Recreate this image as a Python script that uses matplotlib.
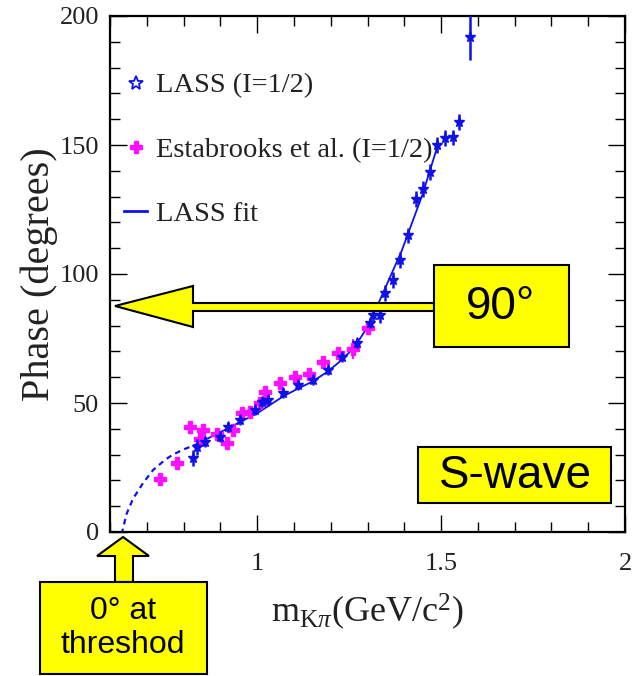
import matplotlib
matplotlib.use('Agg')
import matplotlib.pyplot as plt
from matplotlib.lines import Line2D
from matplotlib.patches import Polygon, Rectangle
from matplotlib.ticker import MultipleLocator, FuncFormatter

plt.rcParams['font.family'] = ['Liberation Serif', 'DejaVu Serif']
plt.rcParams['mathtext.fontset'] = 'custom'
plt.rcParams['mathtext.rm'] = 'Liberation Serif'
plt.rcParams['mathtext.it'] = 'Liberation Serif:italic'

# LASS I=1/2 S-wave phase
lass_m = [0.826, 0.836, 0.858, 0.899, 0.921, 0.953, 0.994, 1.013, 1.029, 1.07,
          1.111, 1.152, 1.192, 1.23, 1.271, 1.307, 1.315, 1.334, 1.347, 1.369,
          1.388, 1.41, 1.432, 1.45, 1.47, 1.489, 1.51, 1.532, 1.548, 1.578]
lass_phase = [28.7, 33, 35, 37, 40.7, 43.4, 47.3, 50.4, 51, 53.9,
              57, 58.9, 62.8, 67.8, 73.3, 81, 84, 84, 92.6, 97.7,
              105.4, 115, 129, 133, 139.5, 150, 152.7, 153, 159, 192]
lass_err = [3, 3, 2, 2, 2, 2, 2, 2, 2, 2,
            2, 2, 2, 2, 2, 2, 3, 3, 3, 3,
            3, 3, 3, 3, 3, 3, 3, 3, 3, 9]

# Estabrooks et al. I=1/2
estab_m = [0.736, 0.782, 0.817, 0.845, 0.853, 0.89, 0.918, 0.934, 0.959, 0.98,
           1.007, 1.021, 1.062, 1.103, 1.141, 1.179, 1.22, 1.26, 1.30]
estab_phase = [20.5, 26.7, 40.7, 36, 39.5, 38, 34.5, 39.5, 46, 46.5,
               50, 54.3, 57.8, 60, 61.2, 66, 69.4, 70.9, 79]
estab_err = [2, 2, 2, 2, 2, 2, 2, 2, 2, 2,
             2, 2, 2, 2, 2, 2, 2, 4, 2]

# LASS fit: extrapolation below data (dashed) and fit region (solid)
dash_m = [0.6, 0.633, 0.645, 0.663, 0.69, 0.717, 0.75, 0.771, 0.80, 0.83]
dash_phase = [0, 0, 7, 13, 19, 24, 28, 30, 32, 33.7]
fit_m = [0.83, 0.9, 1.0, 1.07, 1.11, 1.15, 1.19, 1.22, 1.25, 1.28, 1.30,
         1.334, 1.393, 1.45, 1.489]
fit_phase = [33.7, 38.7, 46, 52.5, 55.5, 58.3, 62, 65.5, 69.5, 75, 79.5,
             90, 109, 131, 149]

W, H = 632, 676
fig = plt.figure(figsize=(W / 100, H / 100), dpi=100)
ax = fig.add_axes([110 / W, 1 - 532 / H, 515 / W, 516 / H])

blue = '#1010e8'
mag = '#ff10ff'

ax.plot(dash_m, dash_phase, color=blue, lw=1.6, ls=(0, (2.5, 2)), zorder=2)
ax.plot(fit_m, fit_phase, color=blue, lw=1.3, zorder=2)
ax.errorbar(estab_m, estab_phase, yerr=estab_err, fmt='P', color=mag, ms=9,
            elinewidth=1.5, capsize=0, zorder=3)
ax.errorbar(lass_m, lass_phase, yerr=lass_err, fmt='*', color=blue, ms=8,
            elinewidth=1.8, capsize=0, zorder=4)

ax.set_xlim(0.6, 2.0)
ax.set_ylim(0, 200)
ax.xaxis.set_major_locator(MultipleLocator(0.5))
ax.xaxis.set_minor_locator(MultipleLocator(0.1))
ax.yaxis.set_major_locator(MultipleLocator(50))
ax.yaxis.set_minor_locator(MultipleLocator(10))
ax.xaxis.set_major_formatter(FuncFormatter(lambda v, p: '%g' % v))
ax.tick_params(which='both', direction='in', top=True, right=True,
               labelsize=19, labelcolor='#222222', width=1.0)
ax.tick_params(which='major', length=12)
ax.tick_params(which='minor', length=7)
ax.tick_params(axis='x', pad=15)
ax.tick_params(axis='y', pad=8)
for s in ax.spines.values():
    s.set_linewidth(1.6)

ax.set_xlabel(r'm$_{\mathrm{K}\pi}$(GeV/c$^2$)', fontsize=26, color='#222222',
              labelpad=12)
ax.set_ylabel('Phase (degrees)', fontsize=29, color='#222222', labelpad=1)

handles = [
    Line2D([], [], ls='none', marker='*', ms=10, mfc='none', mec=blue, mew=1.3),
    Line2D([], [], ls='none', marker='P', ms=9, color=mag),
    Line2D([], [], color=blue, lw=2),
]
labels = ['LASS (I=1/2)', 'Estabrooks et al. (I=1/2)', 'LASS fit']
ax.legend(handles, labels, loc='upper left', bbox_to_anchor=(-0.022, 0.94),
          frameon=False, fontsize=20.5, handlelength=0.8, handletextpad=0.3,
          labelspacing=1.35, labelcolor='#222222')


# callout shapes are laid out in figure pixels (origin at top left)
def px(points):
    return [(x / W, 1 - y / H) for x, y in points]


yellow = '#ffff00'
arrow90 = [(115, 306), (193, 286), (193, 303), (434, 303), (434, 311),
           (193, 311), (193, 327)]
fig.add_artist(Polygon(px(arrow90), closed=True, fc=yellow, ec='black',
                       lw=1.5, transform=fig.transFigure, zorder=5))
fig.add_artist(Rectangle((434 / W, 1 - 347 / H), 135 / W, 82 / H, fc=yellow,
                         ec='black', lw=1.5, transform=fig.transFigure, zorder=5))
fig.text(501 / W, 1 - 307 / H, '90°', fontsize=33, family='Liberation Sans',
         ha='center', va='center', zorder=6)

arrow0 = [(123, 537), (149, 556), (133, 556), (133, 582), (115, 582),
          (115, 556), (97, 556)]
fig.add_artist(Polygon(px(arrow0), closed=True, fc=yellow, ec='black',
                       lw=1.5, transform=fig.transFigure, zorder=5))
fig.add_artist(Rectangle((40 / W, 1 - 674 / H), 167 / W, 92 / H, fc=yellow,
                         ec='black', lw=1.5, transform=fig.transFigure, zorder=5))
fig.text(123 / W, 1 - 628 / H, '0° at\nthreshod', fontsize=23,
         family='Liberation Sans', ha='center', va='center', linespacing=1.15,
         zorder=6)

fig.add_artist(Rectangle((418 / W, 1 - 503 / H), 193 / W, 56 / H, fc=yellow,
                         ec='black', lw=1.5, transform=fig.transFigure, zorder=5))
fig.text(515 / W, 1 - 476 / H, 'S-wave', fontsize=33, family='Liberation Sans',
         ha='center', va='center', zorder=6)

fig.savefig('out.png', dpi=100)
